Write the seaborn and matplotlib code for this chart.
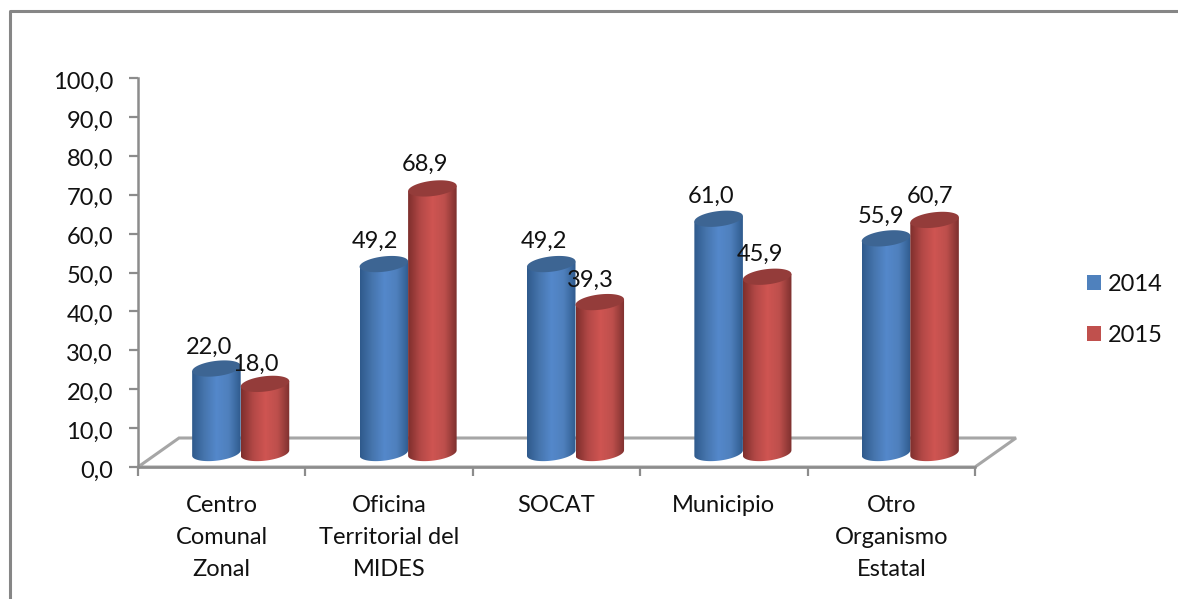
import numpy as np
import pandas as pd
import matplotlib
matplotlib.use("Agg")
import matplotlib.pyplot as plt
from matplotlib.patches import Polygon, Rectangle, PathPatch
from matplotlib.path import Path
from matplotlib.colors import LinearSegmentedColormap
from matplotlib.transforms import ScaledTranslation
import seaborn as sns

CATEGORIES = ["Centro\nComunal\nZonal", "Oficina\nTerritorial del\nMIDES", "SOCAT",
              "Municipio", "Otro\nOrganismo\nEstatal"]
VALUES_2014 = [22.0, 49.2, 49.2, 61.0, 55.9]
VALUES_2015 = [18.0, 68.9, 39.3, 45.9, 60.7]
YEARS = ["2014", "2015"]
Y_TICKS = [0, 10, 20, 30, 40, 50, 60, 70, 80, 90, 100]

W, H = 1178, 599
GRAY = "#8c8c8c"
FONT_SIZE = 17
COLORS = {"2014": "#4f81bd", "2015": "#c0504d"}
SHADES = {
    "2014": ["#2f5a8c", "#4675ad", "#5488cb", "#4f80bd", "#2f5b8e"],
    "2015": ["#7e2f2d", "#b34846", "#cf5552", "#bd4f4c", "#7d302e"],
}
TOPS = {"2014": "#3d6593", "2015": "#943c3a"}


def px_box(x0, y0, x1, y1):
    return [x0 / W, 1 - y1 / H, (x1 - x0) / W, (y1 - y0) / H]


def comma(v):
    return f"{v:.1f}".replace(".", ",")


sns.set_theme(style="white")
plt.rcParams["font.family"] = ["Lato", "DejaVu Sans"]

df = pd.DataFrame({
    "category": CATEGORIES * 2,
    "year": [YEARS[0]] * 5 + [YEARS[1]] * 5,
    "value": VALUES_2014 + VALUES_2015,
})

fig = plt.figure(figsize=(W / 100, H / 100), dpi=100, facecolor="white")

# chart border, only top and left are visible in the crop
fig.add_artist(plt.Line2D([9.5 / W, 9.5 / W, 1], [0, 1 - 11 / H, 1 - 11 / H],
                          color="#868686", lw=2.2))

# front axes: ticks and labels
ax = fig.add_axes(px_box(138, 78, 975, 467))
ax.set_xlim(-0.5, 4.5)
ax.set_ylim(0, 100)
ax.patch.set_alpha(0)
for side in ["top", "right"]:
    ax.spines[side].set_visible(False)
for side in ["left", "bottom"]:
    ax.spines[side].set_color(GRAY)
    ax.spines[side].set_linewidth(1.8)
ax.set_yticks(Y_TICKS)
ax.set_yticklabels([comma(t) for t in Y_TICKS], fontsize=FONT_SIZE, color="#111111")
ax.set_xticks(np.arange(-0.5, 5, 1))
ax.set_xticklabels([])
ax.tick_params(axis="both", length=6.5, width=1.6, color=GRAY, left=True, bottom=True)
ax.tick_params(axis="y", pad=11.5)
for label in ax.get_yticklabels():
    label.set_transform(label.get_transform() + ScaledTranslation(0, -2 / 100, fig.dpi_scale_trans))
for i, cat in enumerate(CATEGORIES):
    ax.annotate(cat, (i, 0), xytext=(0, -20), textcoords="offset points",
                ha="center", va="top", fontsize=FONT_SIZE, color="#111111", linespacing=1.64,
                annotation_clip=False)

# floor of the 3d box
dx, dy = 41 / 837 * 5, 29 / 389 * 100
floor = Polygon([(-0.5, 0), (4.5, 0), (4.5 + dx, dy), (-0.5 + dx, dy)], closed=True,
                fill=False, edgecolor="#a6a6a6", lw=2.2, clip_on=False)
ax.add_patch(floor)

# bars sit in a second axes moved back into the box, with room below zero for the round base
bar_ax = fig.add_axes(px_box(157, 64, 994, 472.2))
bar_ax.patch.set_alpha(0)
sns.barplot(data=df, x="category", y="value", hue="year", hue_order=YEARS,
            palette=COLORS, width=0.58, gap=0, saturation=1, legend=False, ax=bar_ax)
bar_ax.axis("off")

ell_h = 4.0
tilt = 0.7
label_off = {("2014", 0): (-5.5, 2), ("2015", 0): (-7.3, 1.3), ("2014", 1): (-6.5, 3.4),
             ("2015", 1): (-5.5, 3.9), ("2014", 2): (-4.9, 3.4), ("2015", 2): (-6.5, 2.9),
             ("2014", 3): (-5.5, 3.4), ("2015", 3): (-5.2, 2.9), ("2014", 4): (-3.5, 2.4),
             ("2015", 4): (-3.5, 3.9)}
bars = list(bar_ax.patches)
order = [(bars[i], YEARS[0], i) for i in range(5)] + [(bars[i + 5], YEARS[1], i) for i in range(5)]
order.sort(key=lambda t: (t[2], t[1]))
for rect, year, i in order:
    x0, w, h = rect.get_x(), rect.get_width(), rect.get_height()
    rect.set_visible(False)
    z = 3 + i * 2 + (1 if year == YEARS[1] else 0)
    cx = x0 + w / 2
    # body: rectangle plus the lower half of a tilted ellipse, filled with a sideways gradient
    t = np.linspace(np.pi, 2 * np.pi, 40)
    arc = np.column_stack([cx + w / 2 * np.cos(t), ell_h / 2 * np.sin(t) + tilt * np.cos(t)])
    verts = np.vstack([[(x0, h - tilt)], arc, [(x0 + w, h + tilt)], [(x0, h - tilt)]])
    clip = PathPatch(Path(verts), transform=bar_ax.transData, fc="none", ec="none")
    bar_ax.add_patch(clip)
    cmap = LinearSegmentedColormap.from_list(year, SHADES[year])
    im = bar_ax.imshow(np.linspace(0, 1, 128)[None, :], cmap=cmap, aspect="auto",
                       extent=(x0, x0 + w, -ell_h, h + ell_h), zorder=z, interpolation="bilinear")
    im.set_clip_path(clip)
    t = np.linspace(0, 2 * np.pi, 80)
    top = np.column_stack([cx + w / 2 * np.cos(t), h + ell_h / 2 * np.sin(t) + tilt * np.cos(t)])
    bar_ax.add_patch(Polygon(top, closed=True, fc=TOPS[year], ec="none", zorder=z + 0.1))
    bar_ax.annotate(comma(h), (cx, h + ell_h / 2), xytext=label_off[(year, i)],
                    textcoords="offset points", ha="center", va="bottom", fontsize=FONT_SIZE,
                    color="#111111", zorder=30, annotation_clip=False)
bar_ax.set_xlim(-0.5, 4.5)
bar_ax.set_ylim(-5, 101.3)

# legend
handles = [Rectangle((0, 0), 1, 1, fc=COLORS[y], ec="none") for y in YEARS]
fig.legend(handles, YEARS, loc="center left", bbox_to_anchor=(1066 / W, 1 - 310 / H),
           frameon=False, fontsize=FONT_SIZE, handlelength=0.59, handleheight=0.59,
           handletextpad=0.3, labelspacing=1.25, labelcolor="#111111")

fig.savefig("out.png", dpi=100)
